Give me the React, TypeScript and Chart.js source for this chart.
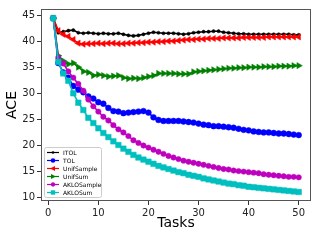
import React, { useEffect, useRef } from "react";
import { Chart, registerables } from "chart.js";

Chart.register(...registerables);

const tasks = [1,2,3,4,5,6,7,8,9,10,11,12,13,14,15,16,17,18,19,20,21,22,23,24,25,26,27,28,29,30,31,32,33,34,35,36,37,38,39,40,41,42,43,44,45,46,47,48,49,50];

const itol = [44.4,41.6,41.8,42.0,42.1,41.6,41.5,41.6,41.5,41.4,41.5,41.4,41.4,41.5,41.3,41.1,41.0,41.1,41.3,41.5,41.7,41.6,41.5,41.5,41.5,41.4,41.3,41.4,41.6,41.7,41.8,41.8,41.9,41.9,41.7,41.6,41.5,41.4,41.4,41.3,41.3,41.3,41.3,41.3,41.3,41.3,41.3,41.3,41.2,41.2];
const tol = [44.4,35.8,34.0,33.0,31.4,30.7,30.2,29.4,29.0,28.3,28.0,27.2,26.6,26.5,26.2,26.3,26.4,26.5,26.6,26.3,25.4,24.9,24.7,24.7,24.7,24.7,24.6,24.5,24.4,24.2,24.0,23.9,23.7,23.7,23.6,23.5,23.4,23.2,23.0,22.9,22.7,22.6,22.5,22.5,22.4,22.3,22.3,22.2,22.1,22.0];
const unifSample = [44.4,42.0,41.3,40.9,40.3,39.6,39.4,39.5,39.5,39.6,39.5,39.6,39.6,39.5,39.5,39.6,39.6,39.7,39.7,39.8,39.8,39.9,39.9,40.0,40.0,40.1,40.2,40.3,40.3,40.4,40.4,40.5,40.5,40.5,40.6,40.6,40.6,40.6,40.7,40.7,40.7,40.7,40.7,40.8,40.8,40.8,40.8,40.8,40.8,40.8];
const unifSum = [44.4,37.2,36.2,35.6,35.8,35.0,34.2,34.0,33.4,33.6,33.4,33.2,33.3,33.4,33.0,32.8,32.9,32.8,33.0,33.2,33.4,33.8,33.8,33.8,33.8,33.7,33.7,33.7,34.1,34.2,34.3,34.4,34.5,34.6,34.7,34.8,34.8,34.9,34.9,35.0,35.0,35.0,35.1,35.1,35.1,35.2,35.2,35.2,35.3,35.3];
const akloSample = [44.4,36.8,35.7,34.2,33.0,31.8,30.5,28.8,27.5,26.5,25.5,24.8,23.9,23.1,22.5,21.8,21.0,20.5,20.0,19.6,19.2,18.8,18.4,18.0,17.7,17.4,17.1,16.9,16.7,16.5,16.3,16.1,15.9,15.7,15.5,15.4,15.2,15.1,15.0,14.9,14.8,14.7,14.5,14.4,14.3,14.2,14.1,14.0,14.0,13.9];
const akloSum = [44.4,36.0,33.8,32.4,30.0,28.2,26.8,25.3,24.3,23.3,22.4,21.6,20.8,20.1,19.4,18.8,18.2,17.7,17.3,16.9,16.5,16.1,15.8,15.5,15.2,14.9,14.7,14.4,14.2,14.0,13.7,13.5,13.3,13.1,12.9,12.7,12.6,12.4,12.3,12.1,12.0,11.9,11.8,11.7,11.6,11.5,11.4,11.3,11.2,11.1];

const seriesNames = ["ITOL", "TOL", "UnifSample", "UnifSum", "AKLOSample", "AKLOSum"];
const xTicks = [0, 10, 20, 30, 40, 50];
const yTicks = [10, 15, 20, 25, 30, 35, 40, 45];

const FONT = "'DejaVu Sans', sans-serif";

const styles = [
  { color: "#000000", pointStyle: "circle", radius: 1.6, rotation: 0 },
  { color: "#0000ff", pointStyle: "circle", radius: 2.9, rotation: 0 },
  { color: "#ff0000", pointStyle: "triangle", radius: 3.6, rotation: 270 },
  { color: "#008000", pointStyle: "triangle", radius: 3.6, rotation: 90 },
  { color: "#bf00bf", pointStyle: "circle", radius: 2.7, rotation: 0 },
  { color: "#00bfbf", pointStyle: "rect", radius: 3.9, rotation: 0 },
];

const frame = {
  id: "frame",
  afterDatasetsDraw(chart: any) {
    const { ctx, chartArea: a } = chart;
    ctx.save();
    ctx.strokeStyle = "#555";
    ctx.lineWidth = 1;
    ctx.strokeRect(a.left + 0.5, a.top + 0.5, a.right - a.left - 1, a.bottom - a.top - 1);
    ctx.restore();
  },
};

function drawMarker(ctx: CanvasRenderingContext2D, style: string, r: number, rot: number, x: number, y: number) {
  ctx.save();
  ctx.translate(x, y);
  ctx.rotate((rot * Math.PI) / 180);
  ctx.beginPath();
  if (style === "circle") {
    ctx.arc(0, 0, r, 0, Math.PI * 2);
  } else if (style === "triangle") {
    ctx.moveTo(0, -r);
    ctx.lineTo(r * 0.9, r * 0.7);
    ctx.lineTo(-r * 0.9, r * 0.7);
    ctx.closePath();
  } else {
    const s = r * Math.SQRT1_2;
    ctx.rect(-s, -s, 2 * s, 2 * s);
  }
  ctx.fill();
  ctx.restore();
}

const legendBox = {
  id: "legendBox",
  afterDraw(chart: any) {
    const { ctx, chartArea: a } = chart;
    const x0 = a.left + 3;
    const y0 = a.bottom - 54;
    const w = 57;
    const h = 50;
    ctx.save();
    ctx.fillStyle = "rgba(255,255,255,0.85)";
    ctx.strokeStyle = "#cccccc";
    ctx.lineWidth = 1;
    ctx.beginPath();
    ctx.roundRect(x0 + 0.5, y0 + 0.5, w, h, 2);
    ctx.fill();
    ctx.stroke();
    ctx.font = `6px ${FONT}`;
    ctx.textBaseline = "middle";
    ctx.textAlign = "left";
    chart.data.datasets.forEach((ds: any, i: number) => {
      const y = y0 + 5.5 + i * 8;
      ctx.strokeStyle = ds.borderColor;
      ctx.lineWidth = 1.2;
      ctx.beginPath();
      ctx.moveTo(x0 + 3, y);
      ctx.lineTo(x0 + 15, y);
      ctx.stroke();
      ctx.fillStyle = ds.borderColor;
      drawMarker(ctx, ds.pointStyle, ds.pointRadius * 0.8, ds.pointRotation, x0 + 9, y);
      ctx.fillStyle = "#000";
      ctx.fillText(ds.label, x0 + 19, y + 0.5);
    });
    ctx.restore();
  },
};

export default function App() {
  const ref = useRef<HTMLCanvasElement>(null);
  useEffect(() => {
    if (!ref.current) return;
    const all = [itol, tol, unifSample, unifSum, akloSample, akloSum];
    const chart = new Chart(ref.current, {
      type: "line",
      data: {
        datasets: all.map((vals, i) => ({
          label: seriesNames[i],
          data: tasks.map((t, j) => ({ x: t, y: vals[j] })),
          borderColor: styles[i].color,
          backgroundColor: styles[i].color,
          pointBackgroundColor: styles[i].color,
          pointBorderColor: styles[i].color,
          pointStyle: styles[i].pointStyle as any,
          pointRadius: styles[i].radius,
          pointRotation: styles[i].rotation,
          pointBorderWidth: 0.5,
          borderWidth: 1.6,
          tension: 0,
          fill: false,
          order: 6 - i,
        })),
      },
      options: {
        responsive: false,
        animation: false,
        layout: { padding: { top: 9, right: 9, left: 0, bottom: 0 } },
        plugins: { legend: { display: false }, tooltip: { enabled: false } },
        scales: {
          x: {
            type: "linear",
            min: -1.45,
            max: 52.45,
            afterBuildTicks: (s: any) => { s.ticks = xTicks.map((v) => ({ value: v })); },
            afterFit: (s: any) => { s.height = 39; },
            grid: { drawOnChartArea: false, drawTicks: true, tickLength: 4, tickColor: "#333" },
            border: { display: false },
            ticks: { color: "#222", font: { family: FONT, size: 10 }, padding: 2, maxRotation: 0 },
            title: { display: true, text: "Tasks", color: "#000", font: { family: FONT, size: 14 }, padding: { top: 0, bottom: 8 } },
          },
          y: {
            type: "linear",
            min: 9.37,
            max: 46.15,
            afterBuildTicks: (s: any) => { s.ticks = yTicks.map((v) => ({ value: v })); },
            afterFit: (s: any) => { s.width = 41; },
            grid: { drawOnChartArea: false, drawTicks: true, tickLength: 4, tickColor: "#333" },
            border: { display: false },
            ticks: { color: "#222", font: { family: FONT, size: 10 }, padding: 2 },
            title: { display: true, text: "ACE", color: "#000", font: { family: FONT, size: 14 }, padding: { top: 4, bottom: 0 } },
          },
        },
      },
      plugins: [frame, legendBox],
    });
    return () => chart.destroy();
  }, []);
  return (
    <div style={{ position: "fixed", left: 0, top: 0, width: 320, height: 240, background: "#fff" }}>
      <canvas ref={ref} width={320} height={240} />
    </div>
  );
}
